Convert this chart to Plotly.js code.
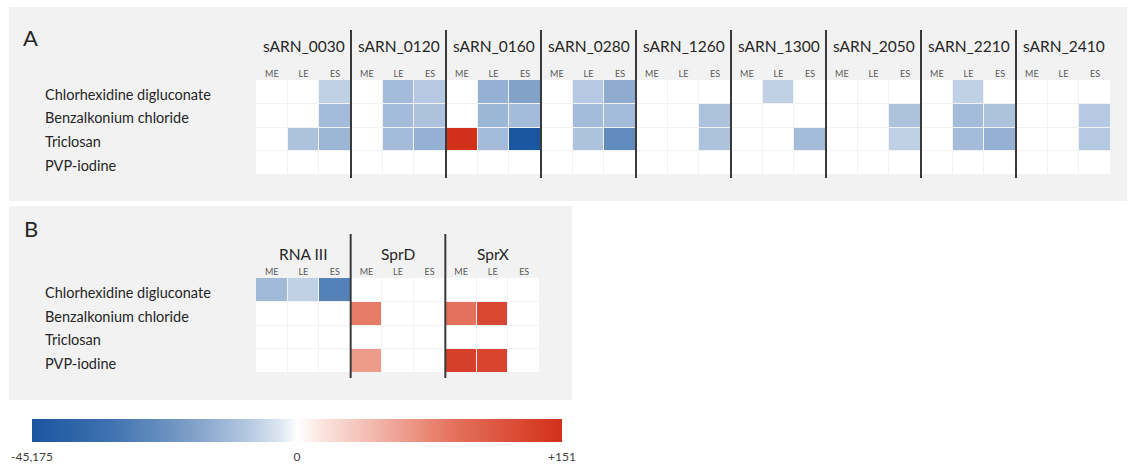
<!DOCTYPE html>
<html>
<head>
<meta charset="utf-8">
<script src="https://cdn.plot.ly/plotly-3.0.1.min.js"></script>
<style>html,body{margin:0;padding:0;background:#fff;}#chart{width:1137px;height:467px;}</style>
</head>
<body>
<div id="chart"></div>
<script>
// ---- data (fold changes read from the colour of each cell; 0 = no change) ----
const agents = ['Chlorhexidine digluconate', 'Benzalkonium chloride', 'Triclosan', 'PVP-iodine'];
const phases = ['ME', 'LE', 'ES'];
const groupsA = ['sARN_0030', 'sARN_0120', 'sARN_0160', 'sARN_0280', 'sARN_1260', 'sARN_1300', 'sARN_2050', 'sARN_2210', 'sARN_2410'];
const groupsB = ['RNA III', 'SprD', 'SprX'];

// Panel A: 9 sRNAs x 3 phases
const chlorA = [0, 0, -5,   0, -14, -7,   0, -28, -60,      0, -7, -35,   0, 0, 0,    0, -5, 0,   0, 0, 0,    0, -5, 0,     0, 0, 0];
const benzA  = [0, 0, -14,  0, -14, -10,  0, -20, -14,      0, -14, -14,  0, 0, -10,  0, 0, 0,    0, 0, -10,  0, -14, -10,  0, 0, -7];
const tricA  = [0, -10, -20, 0, -14, -28, 151, -14, -45175, 0, -10, -300, 0, 0, -10,  0, 0, -14,  0, 0, -5,   0, -14, -28,  0, 0, -7];
const pvpA   = [0, 0, 0,    0, 0, 0,      0, 0, 0,          0, 0, 0,      0, 0, 0,    0, 0, 0,    0, 0, 0,    0, 0, 0,      0, 0, 0];

// Panel B: 3 sRNAs x 3 phases
const chlorB = [-16, -5, -620, 0, 0, 0,  0, 0, 0];
const benzB  = [0, 0, 0,       16, 0, 0, 20, 71, 0];
const tricB  = [0, 0, 0,       0, 0, 0,  0, 0, 0];
const pvpB   = [0, 0, 0,       8, 0, 0,  92, 80, 0];

const scaleMin = -45175, scaleMax = 151;
const scaleTicks = ['-45,175', '0', '+151'];

// ---- helpers ----
const W = 1137, H = 467;
const px = v => v / W;
const py = v => 1 - v / H;
// signed log scale so that both ends of the diverging scale sit at -1 / +1
const toZ = v => v === 0 ? 0 : (v < 0 ? -Math.log(-v) / Math.log(-scaleMin) : Math.log(v) / Math.log(scaleMax));

const zA = [chlorA, benzA, tricA, pvpA].map(r => r.map(toZ));
const zB = [chlorB, benzB, tricB, pvpB].map(r => r.map(toZ));

const colorscale = [
  [0.00, '#1b56a0'], [0.15, '#3f72b0'], [0.30, '#7e9fc8'], [0.40, '#b0c5df'],
  [0.47, '#dde7f2'], [0.50, '#ffffff'], [0.55, '#fbe3de'], [0.65, '#f2b5aa'],
  [0.80, '#e4705a'], [1.00, '#d2301a']
];

const colsA = groupsA.flatMap(() => phases);
const colsB = groupsB.flatMap(() => phases);
const idxA = colsA.map((_, i) => i);
const idxB = colsB.map((_, i) => i);
const rowIdx = agents.map((_, i) => i);

const font = 'Lato, "Open Sans", sans-serif';

const traces = [
  {
    type: 'heatmap', z: zA, x: idxA, y: rowIdx, xaxis: 'x', yaxis: 'y',
    zmin: -1, zmax: 1, colorscale: colorscale, xgap: 1, ygap: 1, hoverinfo: 'skip',
    showscale: false
  },
  {
    type: 'heatmap', z: zB, x: idxB, y: rowIdx, xaxis: 'x2', yaxis: 'y2',
    zmin: -1, zmax: 1, colorscale: colorscale, xgap: 1, ygap: 1, hoverinfo: 'skip',
    showscale: true,
    colorbar: {
      orientation: 'h', x: px(297), xanchor: 'center', y: py(419), yanchor: 'top',
      len: 530, lenmode: 'pixels', thickness: 23, thicknessmode: 'pixels',
      xpad: 0, ypad: 0, outlinewidth: 0,
      ticks: 'outside', ticklen: 5, tickcolor: 'rgba(0,0,0,0)',
      tickvals: [-1, 0, 1], ticktext: scaleTicks,
      tickfont: {family: font, size: 12, color: '#404040'}
    }
  }
];

const subTick = {family: font, size: 9, color: '#595959'};

const shapes = [
  {type: 'rect', xref: 'paper', yref: 'paper', x0: px(9), x1: px(1127), y0: py(201), y1: py(7), fillcolor: '#f2f2f2', line: {width: 0}, layer: 'below'},
  {type: 'rect', xref: 'paper', yref: 'paper', x0: px(9), x1: px(572), y0: py(400), y1: py(206), fillcolor: '#f2f2f2', line: {width: 0}, layer: 'below'}
];
for (let g = 1; g < groupsA.length; g++) {
  shapes.push({type: 'line', xref: 'x', yref: 'paper', x0: 3 * g - 0.5, x1: 3 * g - 0.5, y0: py(178), y1: py(30), line: {color: '#3a3a3a', width: 2}, layer: 'above'});
}
for (let g = 1; g < groupsB.length; g++) {
  shapes.push({type: 'line', xref: 'x2', yref: 'paper', x0: 3 * g - 0.5, x1: 3 * g - 0.5, y0: py(378), y1: py(234), line: {color: '#3a3a3a', width: 2}, layer: 'above'});
}

const annotations = [];
annotations.push({text: 'A', xref: 'paper', yref: 'paper', x: px(21), y: py(37), xanchor: 'left', yanchor: 'middle', showarrow: false, font: {family: font, size: 22, color: '#262626'}});
annotations.push({text: 'B', xref: 'paper', yref: 'paper', x: px(22), y: py(228), xanchor: 'left', yanchor: 'middle', showarrow: false, font: {family: font, size: 22, color: '#262626'}});
groupsA.forEach((g, i) => annotations.push({text: g, xref: 'x', yref: 'paper', x: 3 * i + 1, y: py(46), xanchor: 'center', yanchor: 'middle', showarrow: false, font: {family: font, size: 15.5, color: '#262626'}}));
groupsB.forEach((g, i) => annotations.push({text: g, xref: 'x2', yref: 'paper', x: 3 * i + 1, y: py(254), xanchor: 'center', yanchor: 'middle', showarrow: false, font: {family: font, size: 15.5, color: '#262626'}}));
agents.forEach((a, i) => {
  annotations.push({text: a, xref: 'paper', yref: 'y', x: px(43), y: i + 0.1, xanchor: 'left', yanchor: 'middle', showarrow: false, font: {family: font, size: 14.5, color: '#262626'}});
  annotations.push({text: a, xref: 'paper', yref: 'y2', x: px(43), y: i + 0.1, xanchor: 'left', yanchor: 'middle', showarrow: false, font: {family: font, size: 14.5, color: '#262626'}});
});

const layout = {
  width: W, height: H,
  margin: {l: 0, r: 0, t: 0, b: 0},
  paper_bgcolor: '#ffffff', plot_bgcolor: '#ececec',
  showlegend: false,
  xaxis: {domain: [px(256), px(1111)], range: [-0.5, 26.5], side: 'top', tickvals: idxA, ticktext: colsA, ticks: '', tickfont: subTick, showgrid: false, zeroline: false, showline: false, fixedrange: true},
  yaxis: {domain: [py(175), py(80)], range: [3.5, -0.5], showticklabels: false, ticks: '', showgrid: false, zeroline: false, showline: false, fixedrange: true},
  xaxis2: {domain: [px(256), px(540)], range: [-0.5, 8.5], side: 'top', anchor: 'y2', tickvals: idxB, ticktext: colsB, ticks: '', tickfont: subTick, showgrid: false, zeroline: false, showline: false, fixedrange: true},
  yaxis2: {domain: [py(373), py(278)], range: [3.5, -0.5], anchor: 'x2', showticklabels: false, ticks: '', showgrid: false, zeroline: false, showline: false, fixedrange: true},
  shapes: shapes,
  annotations: annotations
};

Plotly.newPlot('chart', traces, layout, {displayModeBar: false, staticPlot: true});
</script>
</body>
</html>
